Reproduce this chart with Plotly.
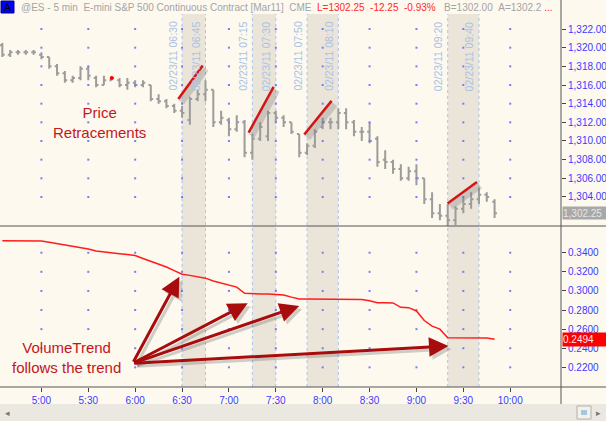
import plotly.graph_objects as go
import pandas as pd

# ---------------- data ----------------
DAY = "2011-02-23"
bar_times = list(pd.date_range(f"{DAY} 04:35", f"{DAY} 09:50", freq="5min"))
opens = [1320.25, 1319.25, 1319.5, 1319.5, 1319.5, 1319.25, 1319.0, 1318.0, 1317.25, 1316.5,
         1316.75, 1317.75, 1316.75, 1316.0, 1316.5, 1316.5, 1316.0, 1316.25, 1316.0, 1316.0,
         1314.5, 1314.25, 1313.75, 1313.25, 1312.25, 1314.5, 1315.0, 1315.5, 1312.0, 1312.25,
         1311.25, 1312.0, 1308.75, 1310.25, 1310.5, 1313.0, 1312.5, 1312.0, 1310.75, 1308.75,
         1309.5, 1311.5, 1312.0, 1312.0, 1313.0, 1312.0, 1311.0, 1311.0, 1310.25, 1308.0,
         1307.75, 1307.0, 1306.0, 1306.75, 1306.0, 1303.75, 1302.25, 1302.0, 1301.5, 1302.75,
         1303.25, 1303.75, 1304.25, 1303.5]
highs = [1320.5, 1319.75, 1319.75, 1319.75, 1319.75, 1319.5, 1319.0, 1318.25, 1317.5, 1317.0,
         1318.0, 1318.0, 1317.0, 1317.0, 1316.75, 1316.75, 1316.75, 1316.5, 1316.5, 1316.0,
         1315.0, 1314.5, 1314.0, 1313.75, 1314.75, 1315.5, 1316.5, 1315.5, 1313.25, 1312.5,
         1312.75, 1312.25, 1310.75, 1312.0, 1313.25, 1313.25, 1312.75, 1312.0, 1310.75, 1309.75,
         1311.25, 1312.5, 1312.5, 1313.5, 1313.5, 1312.25, 1311.5, 1312.0, 1310.5, 1309.0,
         1308.0, 1307.5, 1307.25, 1307.5, 1306.0, 1304.5, 1303.25, 1303.25, 1303.0, 1304.0,
         1304.5, 1305.0, 1304.5, 1303.75]
lows = [1319.0, 1319.0, 1319.25, 1319.25, 1319.25, 1318.75, 1317.75, 1317.0, 1316.25, 1316.25,
        1316.5, 1316.5, 1315.75, 1316.0, 1316.5, 1315.75, 1315.5, 1315.75, 1315.75, 1314.25,
        1314.0, 1313.5, 1313.0, 1312.5, 1311.75, 1314.25, 1314.25, 1311.5, 1311.75, 1310.5,
        1311.0, 1308.25, 1308.0, 1310.0, 1310.0, 1312.0, 1311.5, 1310.75, 1308.25, 1308.5,
        1309.25, 1311.25, 1311.25, 1311.25, 1311.25, 1310.5, 1310.0, 1309.75, 1307.25, 1307.0,
        1306.5, 1305.75, 1305.75, 1305.25, 1303.25, 1301.75, 1301.5, 1300.75, 1301.0, 1302.25,
        1302.75, 1303.25, 1303.5, 1301.75]
closes = [1319.25, 1319.5, 1319.5, 1319.5, 1319.5, 1319.0, 1318.0, 1317.25, 1316.5, 1316.75,
          1317.75, 1317.0, 1316.0, 1316.5, 1316.75, 1316.0, 1316.25, 1316.0, 1316.25, 1314.5,
          1314.25, 1313.75, 1313.25, 1313.0, 1314.5, 1315.0, 1315.5, 1312.0, 1312.5, 1311.25,
          1312.0, 1308.75, 1310.25, 1311.5, 1313.0, 1312.5, 1312.0, 1311.0, 1308.75, 1309.5,
          1311.0, 1312.0, 1312.0, 1313.0, 1312.0, 1311.0, 1311.0, 1310.0, 1307.75, 1307.75,
          1307.0, 1306.0, 1306.75, 1306.0, 1303.75, 1302.25, 1302.0, 1301.5, 1302.75, 1303.25,
          1303.75, 1304.25, 1304.0, 1302.25]
vol_trend = [0.3526, 0.3526, 0.3526, 0.3526, 0.3526, 0.3524, 0.3510, 0.3497, 0.3483, 0.3470,
             0.3456, 0.3440, 0.3418, 0.3406, 0.3398, 0.3390, 0.3382, 0.3370, 0.3340, 0.3312,
             0.3284, 0.3250, 0.3212, 0.3175, 0.3163, 0.3151, 0.3134, 0.3105, 0.3084, 0.3068,
             0.3040, 0.2975, 0.2968, 0.2968, 0.2968, 0.2965, 0.2958, 0.2935, 0.2915, 0.2915,
             0.2915, 0.2915, 0.2915, 0.2915, 0.2915, 0.2915, 0.2910, 0.2897, 0.2876, 0.2876,
             0.2874, 0.2828, 0.2825, 0.2790, 0.2690, 0.2632, 0.2600, 0.2510, 0.2510, 0.2510,
             0.2510, 0.2510, 0.2508, 0.2494]

signal_time = f"{DAY} 05:45"
signal_price = 1316.75

band_starts = ["06:30", "07:15", "07:50", "09:20"]
band_ends = ["06:45", "07:30", "08:10", "09:40"]

retr_t0 = ["06:27:36", "07:12:36", "07:48:12", "09:19:54"]
retr_p0 = [1314.5, 1310.9, 1310.7, 1303.3]
retr_t1 = ["06:43:12", "07:28:36", "08:05:42", "09:38:42"]
retr_p1 = [1318.1, 1315.8, 1314.3, 1305.6]

arrow_tail_t = "05:58:24"
arrow_tail_v = 0.2242
arrow_tip_t = ["06:28:18", "07:12:00", "07:45:00", "09:20:30"]
arrow_tip_v = [0.3149, 0.2870, 0.2842, 0.2423]

x_ticks = ["05:00", "05:30", "06:00", "06:30", "07:00", "07:30", "08:00", "08:30", "09:00", "09:30", "10:00"]
x_ticktext = ["5:00", "5:30", "6:00", "6:30", "7:00", "7:30", "8:00", "8:30", "9:00", "9:30", "10:00"]
price_ticks = [1304, 1306, 1308, 1310, 1312, 1314, 1316, 1318, 1320, 1322]
vol_ticks = [0.22, 0.24, 0.26, 0.28, 0.30, 0.32, 0.34]

last_price = 1302.25
last_vol = 0.2494

# ---------------- geometry / style ----------------
W, H = 606, 421
ML, MR, MT, MB = 0, 45, 14, 34
PW, PH = W - ML - MR, H - MT - MB
SPLIT_PX = 226  # pixel row of panel separator


def px_x(px):
    return (px - ML) / PW


def px_y(py):
    return (H - MB - py) / PH


split = px_y(SPLIT_PX)
BG = "#fdf9ef"
BAND = "#ebe4d9"
FONT = "Liberation Sans, Arial, sans-serif"
AXBLUE = "#3a3aff"
DARKRED = "#c4161c"


def T(hm):
    return pd.Timestamp(f"{DAY} {hm}")


def note(text, x, y, size, color, xanchor="center", yanchor="middle", **kw):
    return dict(text=text, xref="paper", yref="paper", x=px_x(x), y=px_y(y), xanchor=xanchor,
                yanchor=yanchor, showarrow=False, font=dict(family=FONT, size=size, color=color), **kw)


fig = go.Figure()

# grid dots at tick intersections
gx, gy = [], []
for t in x_ticks:
    for p in price_ticks:
        gx.append(T(t)); gy.append(p)
fig.add_trace(go.Scatter(x=gx, y=gy, mode="markers", yaxis="y",
                         marker=dict(size=2, color="#7a7aff", symbol="square"), hoverinfo="skip"))
gx2, gy2 = [], []
for t in x_ticks:
    for v in vol_ticks:
        gx2.append(T(t)); gy2.append(v)
fig.add_trace(go.Scatter(x=gx2, y=gy2, mode="markers", yaxis="y2",
                         marker=dict(size=2, color="#7a7aff", symbol="square"), hoverinfo="skip"))

# OHLC bars
fig.add_trace(go.Ohlc(x=bar_times, open=opens, high=highs, low=lows, close=closes,
                      increasing=dict(line=dict(color="#9c9c9c", width=2)),
                      decreasing=dict(line=dict(color="#9c9c9c", width=2)),
                      tickwidth=0.3, yaxis="y", hoverinfo="skip"))
fig.add_trace(go.Scatter(x=[pd.Timestamp(signal_time)], y=[signal_price], mode="markers", yaxis="y",
                         marker=dict(size=4, color="#ff0000"), hoverinfo="skip"))

# retracement lines with shadow
shift_t = pd.Timedelta(seconds=115)
for a, b, c, d in zip(retr_t0, retr_p0, retr_t1, retr_p1):
    fig.add_trace(go.Scatter(x=[T(a) + shift_t, T(c) + shift_t], y=[b - 0.35, d - 0.35], mode="lines",
                             yaxis="y", line=dict(color="rgba(110,110,110,0.28)", width=7), hoverinfo="skip"))
    fig.add_trace(go.Scatter(x=[T(a), T(c)], y=[b, d], mode="lines", yaxis="y",
                             line=dict(color="#d21414", width=2.5), hoverinfo="skip"))

# volume trend line
fig.add_trace(go.Scatter(x=bar_times, y=vol_trend, mode="lines", yaxis="y2",
                         line=dict(color="#ff1c1c", width=1.5), hoverinfo="skip"))

shapes = []
annotations = []
for s, e in zip(band_starts, band_ends):
    shapes.append(dict(type="rect", xref="x", yref="paper", x0=T(s), x1=T(e), y0=0, y1=1,
                       fillcolor=BAND, line=dict(width=0), layer="below"))
    for edge in (s, e):
        shapes.append(dict(type="line", xref="x", yref="paper", x0=T(edge), x1=T(edge), y0=0, y1=1,
                           line=dict(color="#abc4e6", width=1, dash="dot"), layer="below"))
        annotations.append(dict(text=f"02/23/11 {edge}", textangle=-90, xref="x", yref="paper",
                                x=T(edge), y=1, xanchor="right", yanchor="top", xshift=-2, yshift=-6,
                                showarrow=False, font=dict(family=FONT, size=10.5, color="#a9c2e4")))

# panel frame lines
shapes.append(dict(type="line", xref="paper", yref="paper", x0=0, x1=px_x(W), y0=split, y1=split,
                   line=dict(color="#555555", width=1)))
shapes.append(dict(type="line", xref="paper", yref="paper", x0=0, x1=px_x(W), y0=0, y1=0,
                   line=dict(color="#555555", width=1)))
shapes.append(dict(type="line", xref="paper", yref="paper", x0=1, x1=1, y0=px_y(0), y1=px_y(404),
                   line=dict(color="#555555", width=1)))
# scrollbar
shapes.append(dict(type="rect", xref="paper", yref="paper", x0=0, x1=px_x(W), y0=px_y(404), y1=px_y(H),
                   fillcolor="#ebe8e1", line=dict(width=0)))
shapes.append(dict(type="rect", xref="paper", yref="paper", x0=px_x(577), x1=px_x(591), y0=px_y(406), y1=px_y(419),
                   fillcolor="#f3f1ec", line=dict(color="#b4b0a8", width=1)))
annotations.append(note("III", 584, 412.5, 7, "#666666"))
annotations.append(note("◂", 7, 412.5, 9, "#777777"))
annotations.append(note("▸", 598, 412.5, 9, "#777777"))
# "A" box
shapes.append(dict(type="rect", xref="paper", yref="paper", x0=px_x(1), x1=px_x(14), y0=px_y(1), y1=px_y(13),
                   fillcolor="#0000ff", line=dict(color="#000088", width=1)))
annotations.append(note("A", 7.5, 7.5, 10, "#000000"))

# header
gray = "#a4a4a4"
red = "#ff2a2a"
header = (f"<span style='color:{gray}'>@ES - 5 min&nbsp;&nbsp;E-mini S&amp;P 500 Continuous Contract [Mar11]&nbsp;&nbsp;CME&nbsp;&nbsp;</span>"
          f"<span style='color:{red}'>L=1302.25&nbsp;&nbsp;-12.25&nbsp;&nbsp;-0.93%</span>"
          f"<span style='color:{gray}'>&nbsp;&nbsp;&nbsp;B=1302.00&nbsp;&nbsp;A=1302.2</span>"
          f"<span style='color:{red}'>&nbsp;...</span>")
annotations.append(note(header, 19, 7.5, 10, gray, xanchor="left"))

# explanatory texts
annotations.append(note("Price<br>Retracements", 99, 123, 15, DARKRED))
annotations.append(note("VolumeTrend<br>follows the trend", 66, 357, 15, DARKRED))

# arrows (shadow first)
for tt, vv in zip(arrow_tip_t, arrow_tip_v):
    annotations.append(dict(x=T(tt), y=vv, xref="x", yref="y2", ax=T(arrow_tail_t), ay=arrow_tail_v,
                            axref="x", ayref="y2", text="", showarrow=True, arrowhead=2, arrowsize=1.3,
                            arrowwidth=3, arrowcolor="rgba(90,90,90,0.28)", xshift=3, yshift=-3))
for tt, vv in zip(arrow_tip_t, arrow_tip_v):
    annotations.append(dict(x=T(tt), y=vv, xref="x", yref="y2", ax=T(arrow_tail_t), ay=arrow_tail_v,
                            axref="x", ayref="y2", text="", showarrow=True, arrowhead=2, arrowsize=1.3,
                            arrowwidth=3, arrowcolor="#a80c0c"))

# last value boxes on the right axis
annotations.append(dict(text=f"{last_price:,.2f}", xref="paper", yref="y", x=1, y=last_price,
                        xanchor="left", yanchor="middle", xshift=1, showarrow=False, bgcolor="#a8a8a8",
                        width=43, height=12, align="left", borderpad=0,
                        font=dict(family=FONT, size=10, color="#e6e6e6")))
annotations.append(dict(text=f"{last_vol:.4f}", xref="paper", yref="y2", x=1, y=last_vol,
                        xanchor="left", yanchor="middle", xshift=1, showarrow=False, bgcolor="#ff0000",
                        width=43, height=13, align="left", borderpad=0,
                        font=dict(family=FONT, size=10, color="#ffeaea")))

axis_common = dict(side="right", showgrid=False, zeroline=False, showline=False, ticks="outside",
                   ticklen=4, tickcolor="#444444", tickfont=dict(family=FONT, size=10, color=AXBLUE))

fig.update_layout(
    width=W, height=H, margin=dict(l=ML, r=MR, t=MT, b=MB),
    paper_bgcolor=BG, plot_bgcolor=BG, showlegend=False, hovermode=False,
    xaxis=dict(type="date", range=[T("04:33:30"), T("10:32:30")], anchor="y2",
               tickvals=[T(t) for t in x_ticks], ticktext=x_ticktext, showgrid=False, zeroline=False,
               showline=False, ticks="outside", ticklen=4, tickcolor="#444444",
               tickfont=dict(family=FONT, size=10, color=AXBLUE), rangeslider=dict(visible=False)),
    yaxis=dict(domain=[split, 1], range=[1300.89, 1323.61], tickvals=price_ticks,
               tickformat=",.2f", anchor="x", **axis_common),
    yaxis2=dict(domain=[0, split], range=[0.1994, 0.3680], tickvals=vol_ticks,
                tickformat=".4f", anchor="x", **axis_common),
    shapes=shapes, annotations=annotations,
)

fig.write_html("out.html")
